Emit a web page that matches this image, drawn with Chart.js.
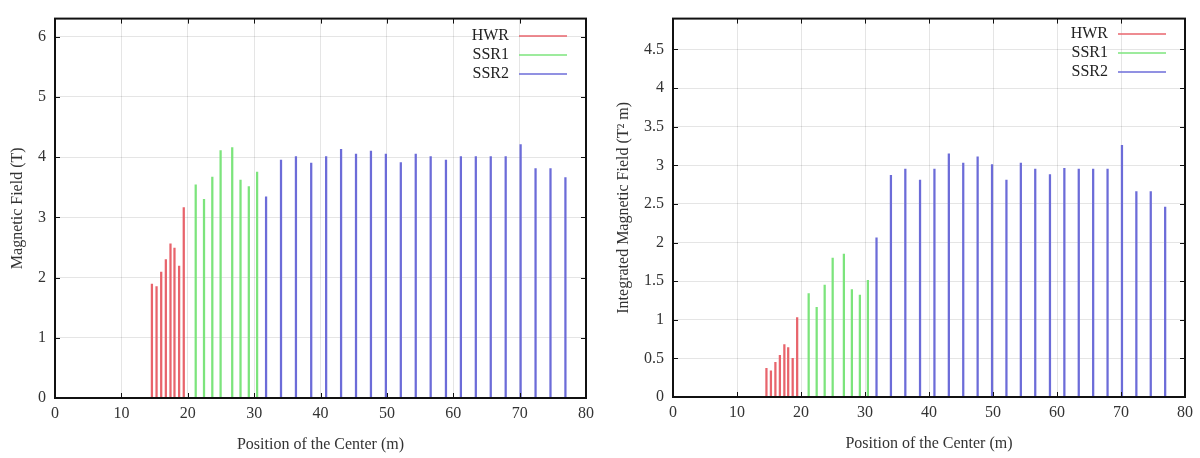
<!DOCTYPE html>
<html>
<head>
<meta charset="utf-8">
<script src="https://cdn.jsdelivr.net/npm/chart.js@4.4.0/dist/chart.umd.min.js"></script>
<style>
  html, body { margin: 0; padding: 0; background: #fff; }
  .wrap { display: flex; width: 1200px; height: 458px; }
  .box { position: relative; width: 600px; height: 458px; }
</style>
</head>
<body>
<div class="wrap">
  <div class="box"><canvas id="fieldChart"></canvas></div>
  <div class="box"><canvas id="integratedChart"></canvas></div>
</div>
<script>
// --- Dados (posição em m) ---
const hwrPos = [14.6, 15.3, 16.0, 16.7, 17.4, 18.0, 18.7, 19.4];
const ssr1Pos = [21.2, 22.45, 23.7, 24.95, 26.7, 27.95, 29.2, 30.45];
const ssr2Pos = [31.8, 34.05, 36.3, 38.6, 40.85, 43.1, 45.35, 47.6, 49.85, 52.1, 54.35,
  56.6, 58.9, 61.15, 63.4, 65.65, 67.9, 70.15, 72.4, 74.65, 76.9];

// campo magnético (T)
const hwrField = [1.89, 1.85, 2.09, 2.30, 2.56, 2.49, 2.19, 3.16];
const ssr1Field = [3.54, 3.30, 3.67, 4.11, 4.16, 3.62, 3.51, 3.75];
const ssr2Field = [3.34, 3.95, 4.01, 3.90, 4.01, 4.13, 4.05, 4.10, 4.05, 3.91, 4.05,
  4.01, 3.95, 4.01, 4.01, 4.01, 4.01, 4.21, 3.81, 3.81, 3.66];

// campo integrado (T^2 m)
const hwrIntegrated = [0.37, 0.34, 0.45, 0.54, 0.68, 0.64, 0.50, 1.03];
const ssr1Integrated = [1.34, 1.16, 1.45, 1.80, 1.85, 1.39, 1.32, 1.51];
const ssr2Integrated = [2.06, 2.87, 2.95, 2.81, 2.95, 3.15, 3.03, 3.11, 3.01, 2.81, 3.03,
  2.95, 2.88, 2.96, 2.95, 2.95, 2.95, 3.26, 2.66, 2.66, 2.46];

// ticks
const xTicks = [0, 10, 20, 30, 40, 50, 60, 70, 80];
const fieldTicks = [0, 1, 2, 3, 4, 5, 6];
const integratedTicks = [0, 0.5, 1, 1.5, 2, 2.5, 3, 3.5, 4, 4.5];

const seriesNames = ['HWR', 'SSR1', 'SSR2'];
const seriesColors = ['rgb(232,100,108)', 'rgb(124,228,124)', 'rgb(108,108,216)'];

const FONT = '"Liberation Serif", "DejaVu Serif", serif';

const toPoints = (xs, ys) => xs.map((x, i) => ({ x, y: ys[i] }));
const fixTicks = list => s => { s.ticks = list.map(v => ({ value: v })); };

// --- Moldura, ticks internos e legenda ---
const framePlugin = {
  id: 'frame',
  afterDraw(chart) {
    const { ctx, chartArea: a, scales } = chart;
    ctx.save();
    ctx.strokeStyle = '#111';
    ctx.lineWidth = 1;
    const t = 5;
    ctx.beginPath();
    scales.x.ticks.forEach(tk => {
      const px = Math.round(scales.x.getPixelForValue(tk.value)) + 0.5;
      ctx.moveTo(px, a.bottom); ctx.lineTo(px, a.bottom - t);
      ctx.moveTo(px, a.top); ctx.lineTo(px, a.top + t);
    });
    scales.y.ticks.forEach(tk => {
      const py = Math.round(scales.y.getPixelForValue(tk.value)) + 0.5;
      ctx.moveTo(a.left, py); ctx.lineTo(a.left + t, py);
      ctx.moveTo(a.right, py); ctx.lineTo(a.right - t, py);
    });
    ctx.stroke();
    ctx.lineWidth = 2;
    ctx.strokeRect(a.left, a.top, a.right - a.left, a.bottom - a.top);

    // legenda
    const lg = chart.options.plugins.frame;
    ctx.font = '16px ' + FONT;
    ctx.textAlign = 'right';
    ctx.textBaseline = 'middle';
    chart.data.datasets.forEach((ds, i) => {
      const y = a.top + lg.top + i * 19;
      ctx.fillStyle = '#222';
      ctx.fillText(ds.label, a.right - 77, y);
      ctx.strokeStyle = ds.backgroundColor;
      ctx.lineWidth = 1.5;
      ctx.beginPath();
      ctx.moveTo(a.right - 67, y + 0.5);
      ctx.lineTo(a.right - 19, y + 0.5);
      ctx.stroke();
    });
    ctx.restore();
  }
};

const makeChart = (id, values, yMax, yTicks, yTitle, pad, yWidth, legendTop) => {
  const allPos = [hwrPos, ssr1Pos, ssr2Pos];
  return new Chart(document.getElementById(id), {
    type: 'bar',
    data: {
      datasets: values.map((vals, i) => ({
        label: seriesNames[i],
        data: toPoints(allPos[i], vals),
        backgroundColor: seriesColors[i],
        borderWidth: 0,
        barThickness: 1.6,
        grouped: false
      }))
    },
    options: {
      responsive: true,
      maintainAspectRatio: false,
      animation: false,
      layout: { padding: pad },
      plugins: {
        legend: { display: false },
        tooltip: { enabled: false },
        frame: { top: legendTop }
      },
      scales: {
        x: {
          type: 'linear',
          min: 0, max: 80,
          offset: false,
          afterBuildTicks: fixTicks(xTicks),
          ticks: { color: '#333', font: { family: FONT, size: 16 }, padding: 6, maxRotation: 0, autoSkip: false, callback: v => String(v) },
          grid: { color: 'rgba(0,0,0,0.10)', drawTicks: false, offset: false },
          border: { display: false },
          title: { display: true, text: 'Position of the Center (m)', color: '#333', font: { family: FONT, size: 16 }, padding: { top: 6 } },
          afterFit: s => { s.height = 60; }
        },
        y: {
          min: 0, max: yMax,
          afterBuildTicks: fixTicks(yTicks),
          ticks: { color: '#333', font: { family: FONT, size: 16 }, padding: 9, autoSkip: false, callback: v => String(v) },
          grid: { color: 'rgba(0,0,0,0.10)', drawTicks: false },
          border: { display: false },
          title: { display: true, text: yTitle, color: '#333', font: { family: FONT, size: 16 }, padding: { bottom: 6 } },
          afterFit: s => { s.width = yWidth; }
        }
      }
    },
    plugins: [framePlugin]
  });
};

document.addEventListener('DOMContentLoaded', () => {
  makeChart('fieldChart', [hwrField, ssr1Field, ssr2Field], 6.3, fieldTicks,
    'Magnetic Field (T)', { left: 4, right: 12, top: 6, bottom: 0 }, 51, 17);
  makeChart('integratedChart', [hwrIntegrated, ssr1Integrated, ssr2Integrated], 4.9, integratedTicks,
    'Integrated Magnetic Field (T\u00B2 m)', { left: 10, right: 15, top: 10, bottom: 1 }, 63, 15);
});
</script>
</body>
</html>
